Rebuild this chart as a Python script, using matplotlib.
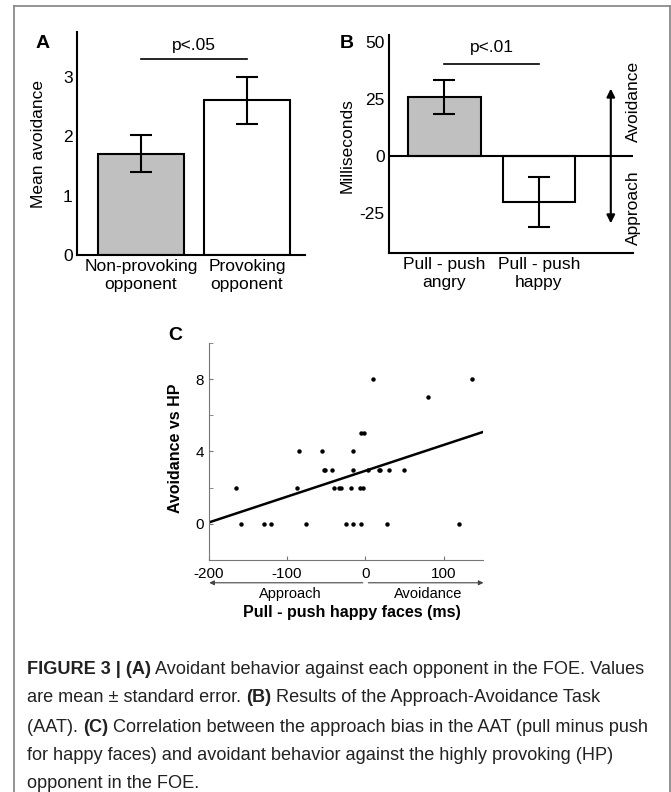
import numpy as np
import matplotlib
matplotlib.use('Agg')
import matplotlib.pyplot as plt
from matplotlib.lines import Line2D

plt.rcParams['font.family'] = ['Liberation Sans', 'DejaVu Sans']
plt.rcParams['axes.unicode_minus'] = False

# Panel A: avoidance per opponent (mean +- SE)
a_labels = ['Non-provoking\nopponent', 'Provoking\nopponent']
a_means = [1.7, 2.6]
a_sem = [0.31, 0.4]
a_colors = ['#c0c0c0', 'white']

# Panel B: approach-avoidance task
b_labels = ['Pull - push\nangry', 'Pull - push\nhappy']
b_means = [26, -20]
b_sem = [7.5, 11]
b_colors = ['#c0c0c0', 'white']

# Panel C: pull - push happy (ms) vs avoidance against HP opponent
c_x = [-165, -158, -129, -120, -87, -85, -75, -55, -53, -51, -42, -40, -34,
       -31, -25, -18, -16, -16, -15, -5, -6, -3, -5, -2, 3, 10, 17, 19, 28,
       31, 49, 80, 120, 136]
c_y = [2, 0, 0, 0, 2, 4, 0, 4, 3, 3, 3, 2, 2,
       2, 0, 2, 3, 4, 0, 0, 2, 2, 5, 5, 3, 8, 3, 3, 0,
       3, 3, 7, 0, 8]
fit_slope = 0.0143
fit_intercept = 2.93

W, H = 671, 792


def box(left, top, right, bottom):
    return [left / W, 1 - bottom / H, (right - left) / W, (bottom - top) / H]


fig = plt.figure(figsize=(W / 100, H / 100), dpi=100)

# outer frame
frame = dict(transform=fig.transFigure, color='#8a8a8a', lw=1.3)
fig.add_artist(Line2D([14 / W, 14 / W], [0, 1 - 6 / H], **frame))
fig.add_artist(Line2D([670 / W, 670 / W], [0, 1 - 6 / H], **frame))
fig.add_artist(Line2D([14 / W, 670 / W], [1 - 6 / H, 1 - 6 / H], **frame))

err_kw = dict(elinewidth=1.5, capthick=1.5, ecolor='black')

# ---- Panel A ----
ax_a = fig.add_axes(box(77, 32, 305, 255))
xa = np.arange(len(a_means))
ax_a.bar(xa, a_means, width=0.81, color=a_colors, edgecolor='black',
         linewidth=1.5, yerr=a_sem, capsize=8, error_kw=err_kw)
ax_a.set_xlim(-0.604, 1.547)
ax_a.set_ylim(0, 3.75)
ax_a.set_xticks(xa, a_labels)
ax_a.set_yticks([0, 1, 2, 3])
for s in ['top', 'right']:
    ax_a.spines[s].set_visible(False)
for s in ['left', 'bottom']:
    ax_a.spines[s].set_linewidth(1.5)
ax_a.tick_params(length=0, labelsize=12.5, pad=3)
ax_a.set_ylabel('Mean avoidance', fontsize=12.5)
ax_a.yaxis.set_label_coords(-0.135, 0.5)
ax_a.plot([0, 1], [3.29, 3.29], color='black', lw=1.2, clip_on=False)
ax_a.text(0.5, 3.52, 'p<.05', ha='center', va='center', fontsize=12.5)
fig.text(43 / W, 1 - 43 / H, 'A', fontsize=14, fontweight='bold',
         ha='center', va='center')

# ---- Panel B ----
ax_b = fig.add_axes(box(389, 35, 633, 253))
xb = np.arange(len(b_means))
ax_b.bar(xb, b_means, width=0.77, color=b_colors, edgecolor='black',
         linewidth=1.5, yerr=b_sem, capsize=8, error_kw=err_kw)
ax_b.axhline(0, color='black', lw=1.5)
ax_b.set_xlim(-0.587, 1.995)
ax_b.set_ylim(-42.5, 53)
ax_b.set_xticks(xb, b_labels)
ax_b.set_yticks([-25, 0, 25, 50])
for s in ['top', 'right']:
    ax_b.spines[s].set_visible(False)
for s in ['left', 'bottom']:
    ax_b.spines[s].set_linewidth(1.5)
ax_b.tick_params(length=0, labelsize=12.5, pad=3)
ax_b.set_ylabel('Milliseconds', fontsize=12.5)
ax_b.yaxis.set_label_coords(-0.14, 0.495)
ax_b.plot([0, 1], [40.4, 40.4], color='black', lw=1.2, clip_on=False)
ax_b.text(0.5, 47.4, 'p<.01', ha='center', va='center', fontsize=12.5)
ax_b.annotate('', xy=(1.76, 29.5), xytext=(1.76, -29.5),
              arrowprops=dict(arrowstyle='<|-|>', color='black', lw=1.5,
                              mutation_scale=12, shrinkA=0, shrinkB=0))
ax_b.text(2.005, 24, 'Avoidance', rotation=90, ha='center', va='center',
          fontsize=12.5, clip_on=False)
ax_b.text(2.005, -22.8, 'Approach', rotation=90, ha='center', va='center',
          fontsize=12.5, clip_on=False)
fig.text(347 / W, 1 - 43 / H, 'B', fontsize=14, fontweight='bold',
         ha='center', va='center')

# ---- Panel C ----
ax_c = fig.add_axes(box(208.5, 343, 482.7, 560))
ax_c.plot(c_x, c_y, 'o', color='black', ms=3.2, mew=0)
xfit = np.array([-200, 150])
ax_c.plot(xfit, fit_slope * xfit + fit_intercept, color='black', lw=1.8)
ax_c.set_xlim(-200, 150)
ax_c.set_ylim(-2, 10)
ax_c.set_xticks([-200, -100, 0, 100])
ax_c.set_yticks([0, 4, 8])
ax_c.set_yticks([2, 6, 10], minor=True)
for s in ['top', 'right']:
    ax_c.spines[s].set_visible(False)
for s in ['left', 'bottom']:
    ax_c.spines[s].set_linewidth(0.8)
    ax_c.spines[s].set_color('#777777')
ax_c.tick_params(which='both', direction='in', length=3, color='#777777',
                 labelsize=11)
ax_c.tick_params(axis='x', pad=5)
ax_c.tick_params(axis='y', pad=3)
ax_c.set_ylabel('Avoidance vs HP', fontsize=11.5, fontweight='bold')
ax_c.yaxis.set_label_coords(-0.093, 0.516)
tr = ax_c.get_xaxis_transform()
arr = dict(arrowstyle='-|>', color='#444444', lw=0.8, mutation_scale=7,
           shrinkA=0, shrinkB=0)
ax_c.annotate('', xy=(-199, -0.105), xytext=(-3, -0.105), xycoords=tr,
              textcoords=tr, arrowprops=arr, annotation_clip=False)
ax_c.annotate('', xy=(151, -0.105), xytext=(4, -0.105), xycoords=tr,
              textcoords=tr, arrowprops=arr, annotation_clip=False)
ax_c.text(-96, -0.155, 'Approach', transform=tr, ha='center', va='center',
          fontsize=10.5)
ax_c.text(80.5, -0.155, 'Avoidance', transform=tr, ha='center', va='center',
          fontsize=10.5)
fig.text(352 / W, 1 - 612 / H, 'Pull - push happy faces (ms)', fontsize=11.5,
         fontweight='bold', ha='center', va='center')
fig.text(175 / W, 1 - 335 / H, 'C', fontsize=14, fontweight='bold',
         ha='center', va='center')

# ---- Caption ----
caption = [
    [('FIGURE 3 | (A)', True),
     (' Avoidant behavior against each opponent in the FOE. Values', False)],
    [('are mean \u00b1 standard error. ', False), ('(B)', True),
     (' Results of the Approach-Avoidance Task', False)],
    [('(AAT). ', False), ('(C)', True),
     (' Correlation between the approach bias in the AAT (pull minus push',
      False)],
    [('for happy faces) and avoidant behavior against the highly provoking (HP)',
      False)],
    [('opponent in the FOE.', False)],
]
cap_y = [669, 698, 727, 755, 783]
renderer = fig.canvas.get_renderer()
for parts, yy in zip(caption, cap_y):
    x = 27 / W
    for txt, bold in parts:
        t = fig.text(x, 1 - yy / H, txt, fontsize=13.1,
                     fontweight='bold' if bold else 'normal', va='center',
                     ha='left', color='#222222')
        x += t.get_window_extent(renderer=renderer).width / fig.bbox.width

fig.savefig('out.png', dpi=100)
